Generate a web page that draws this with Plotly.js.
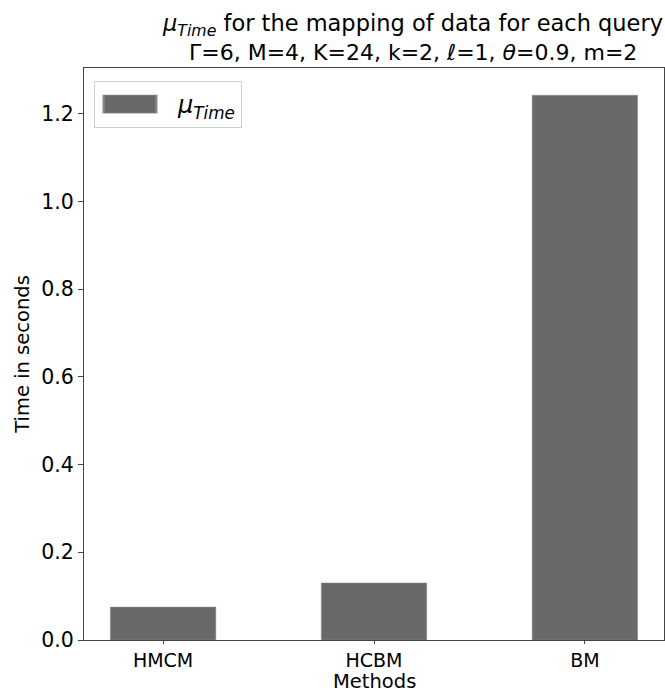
<!DOCTYPE html>
<html>
<head>
<meta charset="utf-8">
<script src="https://cdn.plot.ly/plotly-3.0.1.min.js"></script>
<style>html,body{margin:0;padding:0;background:#fff;}#chart{width:665px;height:693px;}</style>
</head>
<body>
<div id="chart"></div>
<script>
const methods = ["HMCM", "HCBM", "BM"];
const muTime = [0.075, 0.130, 1.242];
const yTicks = [0.0, 0.2, 0.4, 0.6, 0.8, 1.0, 1.2];
const yTickLabels = ["0.0", "0.2", "0.4", "0.6", "0.8", "1.0", "1.2"];
const titleLine1 = "<i>μ</i><sub><i>Time</i></sub> for the mapping of data for each query";
const titleLine2 = "Γ=6, M=4, K=24, k=2, <i>ℓ</i>=1, <i>θ</i>=0.9, m=2";
const xTitle = "Methods";
const yTitle = "Time in seconds";

const font = "DejaVu Sans, sans-serif";
const yMax = Math.max(...muTime) * 1.05;

const trace = {
  type: "bar",
  x: methods,
  y: muTime,
  width: 0.5,
  name: "<i>μ</i><sub><i>Time</i></sub>",
  marker: {color: "#696969", line: {width: 0.5, color: "#8a8a8a"}},
  hoverinfo: "x+y"
};

const layout = {
  width: 665, height: 693,
  margin: {l: 84, r: 1, t: 68, b: 53},
  paper_bgcolor: "#fff", plot_bgcolor: "#fff",
  font: {family: font, color: "#000", size: 20},
  title: {
    text: titleLine1,
    font: {family: font, size: 22.5, color: "#000"},
    x: 413 / 665, xref: "container", xanchor: "center",
    y: 1 - 23 / 693, yref: "container", yanchor: "middle"
  },
  annotations: [{
    text: titleLine2, showarrow: false,
    xref: "paper", x: (413 - 84) / 580, xanchor: "center",
    yref: "paper", y: (640 - 53) / 572, yanchor: "middle",
    font: {family: font, size: 22, color: "#000"}
  }, {
    text: xTitle, showarrow: false,
    xref: "paper", x: 0.5, xanchor: "center",
    yref: "paper", y: (640 - 694) / 572, yanchor: "bottom",
    borderpad: 0,
    font: {family: font, size: 19.5, color: "#000"}
  }],
  xaxis: {
    range: [-0.375, 2.375],
    showline: true, mirror: true, linecolor: "#444", linewidth: 1,
    ticks: "outside", ticklen: 3, tickcolor: "#444",
    showgrid: false, zeroline: false,
    tickfont: {family: font, size: 19}
  },
  yaxis: {
    range: [0, yMax],
    tickvals: yTicks, ticktext: yTickLabels,
    showline: true, mirror: true, linecolor: "#444", linewidth: 1,
    ticks: "outside", ticklen: 5, tickcolor: "#444",
    showgrid: false, zeroline: false,
    tickfont: {family: font, size: 20.5},
    title: {text: yTitle, font: {family: font, size: 19.5}, standoff: 6}
  },
  showlegend: true,
  legend: {
    x: 10 / 580, y: (640 - 81) / 572, xanchor: "left", yanchor: "top",
    bgcolor: "rgba(255,255,255,0.8)", bordercolor: "#d0d0d0", borderwidth: 1,
    font: {family: font, size: 24, color: "#000"},
    itemwidth: 73
  },
  bargap: 0.5
};

Plotly.newPlot("chart", [trace], layout, {staticPlot: true, displayModeBar: false}).then(function (gd) {
  // widen the legend patch to a matplotlib-like rectangle
  gd.querySelectorAll(".legend .legendpoints path").forEach(function (p) {
    p.setAttribute("transform", "translate(35,0) scale(4.4,1.5)");
  });
});
</script>
</body>
</html>
